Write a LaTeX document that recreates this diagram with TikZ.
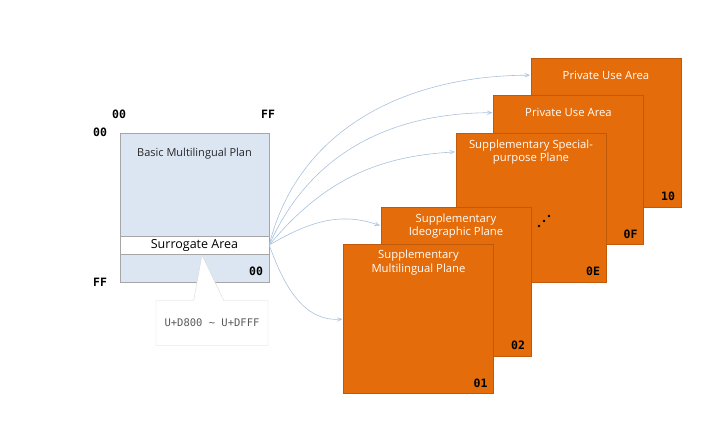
\documentclass[tikz,border=0pt]{standalone}
\usepackage{fontspec}
\setmainfont{Open Sans}
\setmonofont{DejaVu Sans Mono}
\usetikzlibrary{arrows,positioning,shapes.callouts}

\definecolor{bmpblue}{HTML}{DCE6F2}
\definecolor{bmpedge}{HTML}{A6A6A6}
\definecolor{planeorange}{HTML}{E46C0A}
\definecolor{planeedge}{HTML}{C05A0A}
\definecolor{linkblue}{HTML}{A9C1DE}

\begin{document}
\begin{tikzpicture}[x=1pt, y=1pt, >=angle 45, thin,
  bmp/.style={draw=bmpedge, fill=bmpblue, minimum width=149pt, minimum height=149pt, inner sep=0pt},
  band/.style={draw=bmpedge, fill=white, minimum width=149pt, minimum height=18pt, inner sep=0pt, font=\fontsize{12.5}{14}\selectfont},
  plane/.style={draw=planeedge, fill=planeorange, minimum width=150pt, minimum height=149pt, inner sep=0pt},
  ttl/.style={text=white, align=center, font=\fontsize{11.3}{13.5}\selectfont, anchor=north, inner sep=2pt},
  hex/.style={font=\ttfamily\bfseries\fontsize{11.5}{14}\selectfont, inner sep=1pt},
  link/.style={->, draw=linkblue, line width=0.6pt, shorten >=1pt}]
\useasboundingbox (0,0) rectangle (718,431);

% basic multilingual plane
\node[bmp] (bmp) at (194.5,223.5) {};
\node[font=\fontsize{11}{12}\selectfont, text=black!85, anchor=north] (bmpt) at ([yshift=-11.5pt]bmp.north) {Basic Multilingual Plan};
\node[band] (sa) at (194.5,186) {Surrogate Area};
\node[hex, anchor=south east] (bmp00) at ([xshift=-5pt, yshift=5pt]bmp.south east) {00};
\node[hex] (colTop) at (119,317) {00};
\node[hex] (colEnd) at (268,317) {FF};
\node[hex] (rowTop) at (100,299) {00};
\node[hex] (rowEnd) at (100,149) {FF};

% surrogate range
\coordinate (tip) at (202,176);
\node[rectangle callout, draw=black!15, fill=white, minimum width=112pt, minimum height=45pt,
  callout absolute pointer={(tip)}, callout pointer width=30pt,
  font=\ttfamily\fontsize{10.5}{12}\selectfont, text=black!65] (range) at (212,108) {U+D800 \textasciitilde{} U+DFFF};

% supplementary planes
\node[plane] (p10) at (606,298.5) {};
\node[ttl] (t10) at ([yshift=-11pt]p10.north) {Private Use Area};
\node[hex, anchor=south east] (n10) at ([xshift=-5pt, yshift=5pt]p10.south east) {10};

\node[plane] (p0F) at (568.5,261) {};
\node[ttl] (t0F) at ([yshift=-11pt]p0F.north) {Private Use Area};
\node[hex, anchor=south east] (n0F) at ([xshift=-5pt, yshift=5pt]p0F.south east) {0F};

\node[plane] (p0E) at (531,223.5) {};
\node[ttl] (t0E) at ([yshift=-4.5pt]p0E.north) {Supplementary Special-\\purpose Plane};
\node[hex, anchor=south east] (n0E) at ([xshift=-5pt, yshift=5pt]p0E.south east) {0E};
\fill (539,205) circle (1.3pt) (544,210) circle (1.3pt) (549,215) circle (1.3pt);

\node[plane] (p02) at (456,149.5) {};
\node[ttl] (t02) at ([yshift=-4.5pt]p02.north) {Supplementary\\Ideographic Plane};
\node[hex, anchor=south east] (n02) at ([xshift=-5pt, yshift=5pt]p02.south east) {02};

\node[plane] (p01) at (418.5,112) {};
\node[ttl] (t01) at ([yshift=-3.5pt]p01.north) {Supplementary\\Multilingual Plane};
\node[hex, anchor=south east] (n01) at ([xshift=-5pt, yshift=5pt]p01.south east) {01};

% surrogate pairs reach the planes
\draw[link] (sa.east) to[out=76, in=180] (p10.west |- t10);
\draw[link] (sa.east) to[out=66, in=180] (p0F.west |- t0F);
\draw[link] (sa.east) to[out=50, in=183] (p0E.west |- t0E);
\draw[link] (sa.east) to[out=30, in=160] (p02.west |- t02);
\draw[link] (sa.east) to[out=-70, in=185] (p01.west);

\end{tikzpicture}
\end{document}
